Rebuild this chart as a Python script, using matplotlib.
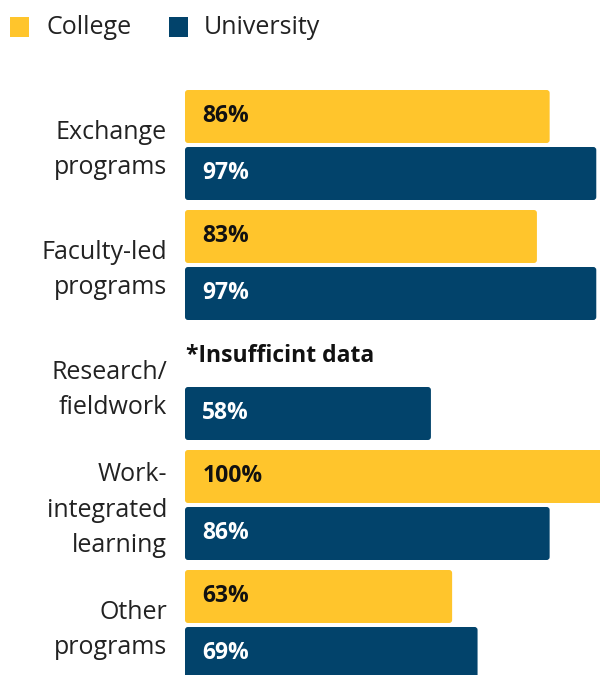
import matplotlib
matplotlib.use("Agg")
import matplotlib.pyplot as plt
from matplotlib.patches import FancyBboxPatch, Rectangle
from matplotlib.transforms import ScaledTranslation
import numpy as np

categories = ["Exchange\nprograms", "Faculty-led\nprograms", "Research/\nfieldwork",
              "Work-\nintegrated\nlearning", "Other\nprograms"]
college = [86, 83, None, 100, 63]
university = [97, 97, 58, 86, 69]
series_names = ["College", "University"]
missing_note = "*Insufficint data"

YELLOW = "#FFC52C"
NAVY = "#02436B"
FONT = ["Open Sans", "DejaVu Sans"]

plt.rcParams['font.family'] = FONT

fig = plt.figure(figsize=(6, 6.75), dpi=100)
ax = fig.add_axes([185/600, 0, 415/600, 615/675])

y = np.arange(len(categories))
h = 53/120
off = 28.5/120

col_vals = [np.nan if v is None else v for v in college]
b1 = ax.barh(y - off, col_vals, height=h, color=YELLOW)
b2 = ax.barh(y + off, university, height=h, color=NAVY)

ax.set_xlim(0, 415/4.24)
ax.set_ylim(4 + 50/120, -85/120)

aspect = (1/120) / (1/4.24)
for bars in (b1, b2):
    for r in bars:
        w = r.get_width()
        if not np.isfinite(w):
            continue
        r.set_visible(False)
        p = FancyBboxPatch((r.get_x(), r.get_y()), w, r.get_height(),
                           boxstyle="round,pad=0,rounding_size=0.7",
                           mutation_aspect=aspect, facecolor=r.get_facecolor(),
                           edgecolor="none")
        ax.add_patch(p)

VFS = 16.5
for i, v in enumerate(college):
    if v is None:
        ax.annotate(missing_note, (0, i - off), xytext=(0.5, 0), textcoords="offset points",
                    ha="left", va="center", fontsize=VFS, fontweight="bold", color="#111111")
    else:
        ax.annotate(f"{v}%", (0, i - off), xytext=(12.5, 0), textcoords="offset points",
                    ha="left", va="center", fontsize=VFS, fontweight="bold", color="#111111")
for i, v in enumerate(university):
    ax.annotate(f"{v}%", (0, i + off), xytext=(12.5, 0), textcoords="offset points",
                ha="left", va="center", fontsize=VFS, fontweight="bold", color="white")

ax.set_yticks(y)
ax.set_yticklabels(categories, fontsize=18, color="#222222", linespacing=1.55)
ax.tick_params(axis="y", length=0, pad=13)
ax.set_xticks([])
for s in ax.spines.values():
    s.set_visible(False)
shift = ScaledTranslation(0, 3/100, fig.dpi_scale_trans)
for lab in ax.get_yticklabels():
    lab.set_transform(lab.get_transform() + shift)

# legend
fig.patches.append(Rectangle((10/600, 1 - 37/675), 19/600, 20/675, transform=fig.transFigure,
                             facecolor=YELLOW, edgecolor="none"))
fig.text(47/600, 1 - 27/675, series_names[0], fontsize=18, va="center", ha="left", color="#222222")
fig.patches.append(Rectangle((169/600, 1 - 37/675), 19/600, 20/675, transform=fig.transFigure,
                             facecolor=NAVY, edgecolor="none"))
fig.text(204/600, 1 - 27/675, series_names[1], fontsize=18, va="center", ha="left", color="#222222")

fig.savefig("out.png", dpi=100)
